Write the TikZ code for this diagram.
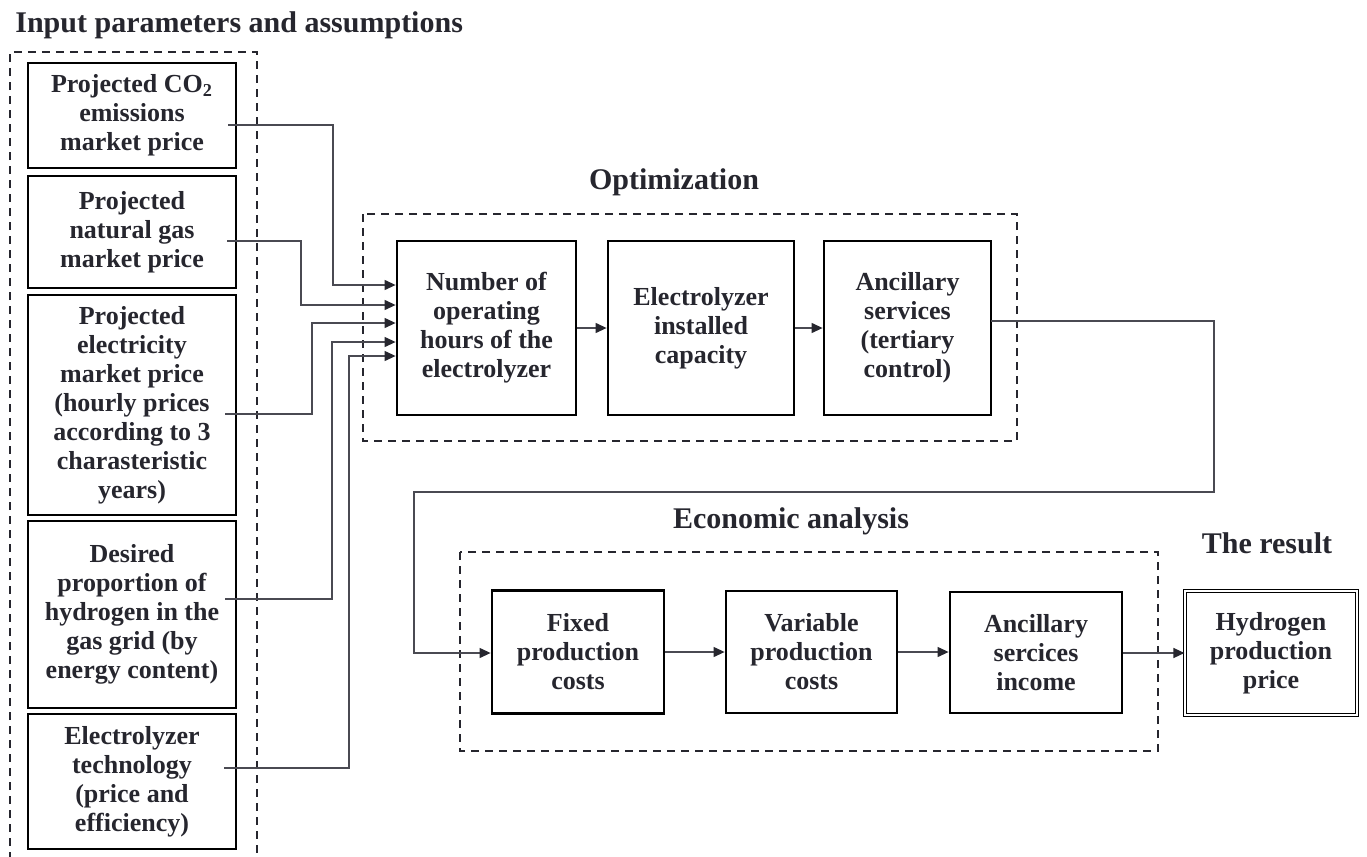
\documentclass[tikz,border=0pt]{standalone}
\usepackage{fontspec}
\setmainfont{Liberation Serif}
\usetikzlibrary{arrows.meta,calc}
\definecolor{ink}{HTML}{26262E}
\definecolor{wire}{HTML}{4A4A52}
\begin{document}
\begin{tikzpicture}[x=0.5pt,y=-0.5pt,
  font=\bfseries\fontsize{13}{14.5}\selectfont,
  every node/.style={text=ink},
  box/.style={draw=black,line width=1.4pt,align=center,inner sep=0pt},
  group/.style={draw=ink,line width=0.9pt,dash pattern=on 4pt off 3pt},
  heading/.style={font=\bfseries\fontsize{15}{17}\selectfont,text=ink,inner sep=0pt},
  conn/.style={draw=wire,line width=0.6pt},
  flow/.style={conn,-{Triangle[length=5.5pt,width=5pt,color=ink]}}]
\useasboundingbox (0,0) rectangle (1367,857);

% ---------- group frames ----------
\draw[group] (10,860) -- (10,52) -- (257,52) -- (257,860);
\draw[group] (363,214) rectangle (1017,441);
\draw[group] (460,552) rectangle (1158,751);

% ---------- headings ----------
\node[heading,anchor=base west] (hin) at (15,32) {Input parameters and assumptions};
\node[heading,anchor=base] (hopt) at (674,189) {Optimization};
\node[heading,anchor=base] (heco) at (791,528) {Economic analysis};
\node[heading,anchor=base] (hres) at (1267,553) {The result};

% ---------- input parameters ----------
\node[box,minimum width=104pt,minimum height=52.5pt] (in1) at (132,115.5)
  {Projected CO\textsubscript{2}\\emissions\\market price};
\node[box,minimum width=104pt,minimum height=56pt] (in2) at (132,232)
  {Projected\\natural gas\\market price};
\node[box,minimum width=104pt,minimum height=110pt] (in3) at (132,405)
  {Projected\\electricity\\market price\\(hourly prices\\according to 3\\charasteristic\\years)};
\node[box,minimum width=104pt,minimum height=93.5pt] (in4) at (132,614.5)
  {Desired\\proportion of\\hydrogen in the\\gas grid (by\\energy content)};
\node[box,minimum width=104pt,minimum height=67.5pt] (in5) at (132,781.5)
  {Electrolyzer\\technology\\(price and\\efficiency)};

% ---------- optimization ----------
\node[box,minimum width=89.5pt,minimum height=87pt] (num) at (486.5,328)
  {Number of\\operating\\hours of the\\electrolyzer};
\node[box,minimum width=93pt,minimum height=87pt] (elec) at (701,328)
  {Electrolyzer\\installed\\capacity};
\node[box,minimum width=83.5pt,minimum height=87pt] (anc) at (907.5,328)
  {Ancillary\\services\\(tertiary\\control)};

% ---------- economic analysis ----------
\node[box,minimum width=86pt,minimum height=61.5pt] (fix) at (578,652)
  {Fixed\\production\\costs};
\node[box,minimum width=85.5pt,minimum height=61pt] (var) at (811.5,652)
  {Variable\\production\\costs};
\node[box,minimum width=86pt,minimum height=60.5pt] (inc) at (1036,652.5)
  {Ancillary\\sercices\\income};

% ---------- result ----------
\node[draw=black,double,double distance=1.3pt,line width=0.55pt,align=center,
  inner sep=0pt,minimum width=86pt,minimum height=62pt] (hyd) at (1271,653)
  {Hydrogen\\production\\price};

% ---------- input wiring ----------
\coordinate (s1) at (228,125);  \coordinate (k1) at (333,285);
\coordinate (s2) at (227,241);  \coordinate (k2) at (301,305);
\coordinate (s3) at (225,414);  \coordinate (k3) at (312,323);
\coordinate (s4) at (225,599);  \coordinate (k4) at (332,342);
\coordinate (s5) at (224,768);  \coordinate (k5) at (349,356);
\foreach \i in {1,...,5}{
  \draw[flow] (s\i) -- (s\i -| k\i) -- (k\i) -- (k\i -| num.west);
}

% ---------- main flow ----------
\draw[flow] (num.east) -- (num.east -| elec.west);
\draw[flow] (elec.east) -- (elec.east -| anc.west);
\coordinate (a0) at (991,321);
\coordinate (b1) at (1214,492);
\coordinate (b2) at (414,653);
\draw[flow] (a0) -| (b1) -| (b2) -- (fix.west |- b2);
\draw[flow] (fix.east) -- (fix.east -| var.west);
\draw[flow] (var.east) -- (var.east -| inc.west);
\draw[flow] (inc.east |- hyd.west) -- (hyd.west);
\end{tikzpicture}
\end{document}
